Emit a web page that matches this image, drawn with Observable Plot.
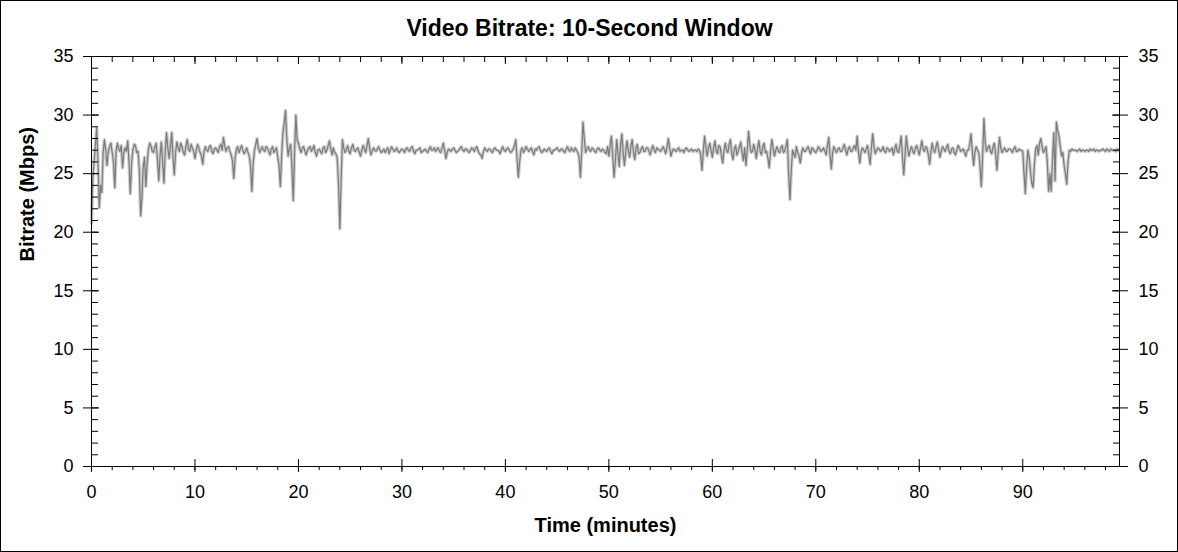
<!DOCTYPE html>
<html>
<head>
<meta charset="utf-8">
<script src="https://cdn.jsdelivr.net/npm/d3@7"></script>
<script src="https://cdn.jsdelivr.net/npm/@observablehq/plot@0.6"></script>
<style>
  html, body { margin: 0; padding: 0; background: #fff; }
  #wrap { position: relative; width: 1178px; height: 552px; overflow: hidden; }
  #border { position: absolute; left: 0; top: 0; width: 1178px; height: 552px; box-sizing: border-box; border: 1px solid #000; pointer-events: none; }
</style>
</head>
<body>
<div id="wrap"><div id="border"></div></div>
<script>
const titleText = "Video Bitrate: 10-Second Window";
const xLabel = "Time (minutes)";
const yLabel = "Bitrate (Mbps)";

// sample spacing of the series (minutes)
const sampleStep = 0.25;

// bitrate (Mbps) read at 0, 0.25, 0.5 ... minutes
const bitrate = [
  20.8, 26.0, 28.9, 22.1, 23.4, 27.9, 25.7, 27.3, 26.8, 23.8, 27.6, 26.9, 25.5, 27.2, 27.8, 23.3, 27.0, 27.4, 26.9, 21.4,
  25.6, 23.9, 27.1, 27.4, 26.8, 27.6, 24.4, 27.7, 24.2, 28.5, 26.3, 28.5, 24.9, 27.7, 26.9, 27.3, 26.6, 27.9, 26.9, 27.2,
  26.3, 27.5, 26.8, 25.8, 27.3, 26.9, 27.4, 26.7, 27.2, 26.8, 27.5, 28.1, 26.9, 27.3, 26.6, 24.6, 27.1, 26.8, 27.4, 26.7,
  27.2, 26.5, 23.5, 27.0, 28.0, 26.8, 27.3, 26.9, 27.2, 26.6, 27.3, 27.0, 26.4, 23.9, 28.5, 30.4, 26.5, 27.5, 22.7, 30.0,
  27.6, 26.8, 27.3, 26.6, 27.2, 26.9, 27.4, 26.5, 27.1, 26.7, 27.3, 27.0, 27.8, 26.6, 26.8, 26.3, 20.3, 27.9, 26.8, 27.4,
  26.7, 27.5, 26.9, 27.2, 26.5, 27.4, 26.8, 28.0, 26.6, 27.2, 26.9, 27.3, 26.8, 27.1, 27.0, 26.7, 27.3, 26.9, 27.2, 26.8,
  27.1, 26.8, 27.2, 26.9, 27.3, 26.7, 27.0, 27.2, 26.9, 27.1, 26.8, 27.3, 27.0, 26.9, 27.2, 26.8, 27.6, 26.3, 27.1, 26.9,
  27.2, 26.8, 27.0, 27.3, 26.9, 27.1, 26.8, 27.2, 26.9, 27.3, 26.7, 26.3, 27.2, 26.9, 27.1, 26.8, 27.2, 27.0, 26.7, 27.3,
  26.9, 27.2, 26.8, 27.1, 27.9, 24.7, 27.0, 26.8, 27.3, 26.9, 27.2, 26.6, 27.0, 27.3, 26.8, 27.1, 26.9, 27.2, 26.7, 27.0,
  27.2, 26.9, 27.1, 26.8, 27.3, 26.9, 27.0, 27.2, 26.8, 24.7, 29.4, 26.8, 27.3, 26.9, 27.1, 26.8, 27.2, 26.9, 27.0, 26.7,
  26.5, 28.2, 24.7, 27.9, 25.6, 28.4, 25.7, 27.8, 26.4, 27.9, 26.2, 27.5, 26.8, 27.3, 26.9, 27.2, 26.6, 27.4, 26.8, 27.1,
  26.9, 27.3, 26.7, 28.0, 26.5, 27.1, 26.9, 27.2, 27.0, 26.8, 27.2, 26.9, 27.1, 27.0, 26.9, 27.0, 25.3, 28.2, 26.5, 27.6,
  26.4, 27.8, 26.7, 27.3, 25.9, 27.6, 26.8, 27.9, 26.2, 27.4, 26.9, 27.7, 26.1, 25.7, 28.6, 26.8, 27.5, 26.3, 27.8, 26.6,
  27.6, 26.9, 25.5, 27.9, 26.5, 27.3, 26.8, 27.4, 26.9, 27.9, 22.8, 27.0, 26.4, 26.8, 25.9, 27.2, 26.9, 27.3, 26.7, 27.1,
  26.8, 27.3, 26.9, 27.2, 26.6, 28.1, 25.4, 27.3, 26.8, 27.2, 26.9, 27.5, 26.6, 27.3, 26.9, 27.4, 28.2, 25.9, 27.2, 26.8,
  27.4, 25.8, 28.4, 26.7, 27.2, 26.9, 27.3, 26.8, 27.1, 27.0, 26.6, 27.5, 26.8, 28.2, 24.9, 28.2, 26.5, 27.3, 26.7, 27.4,
  26.6, 27.8, 26.9, 27.2, 25.8, 27.6, 26.8, 27.7, 26.4, 27.3, 26.9, 27.5, 26.7, 27.2, 26.6, 27.4, 26.9, 27.1, 26.5, 27.0,
  28.4, 25.7, 27.3, 26.8, 23.9, 29.7, 26.9, 27.4, 26.7, 27.6, 25.3, 28.1, 26.8, 27.2, 26.9, 27.1, 26.8, 27.3, 26.9, 27.0,
  26.9, 23.3, 27.0, 25.1, 23.8, 27.1, 26.6, 28.0, 26.8, 27.3, 23.5, 23.5, 28.5, 29.4, 28.2, 26.5, 25.7, 24.1, 27.0, 27.1,
  27.0, 26.9, 27.1, 27.0, 26.9, 27.0, 27.1, 27.0, 26.9, 27.0, 27.0, 27.1, 26.9, 27.0, 27.1, 27.0, 26.9, 27.0
];

// bitrate (Mbps) read at 0.125, 0.375, 0.625 ... minutes (between the samples above)
const bitrateMid = [
  24.5, 27.4, 26.2, 24.0, 26.8, 27.0, 26.9, 27.6, 26.0, 26.9, 27.1, 27.4, 26.8, 26.9, 26.0, 25.8, 27.5, 26.8, 25.2, 23.0,
  26.4, 25.8, 27.6, 26.9, 27.3, 26.2, 26.5, 26.0, 26.9, 27.2, 27.3, 26.4, 26.8, 27.2, 27.6, 26.8, 27.3, 27.1, 27.5, 26.9,
  27.0, 27.2, 26.5, 26.9, 27.0, 27.3, 26.9, 27.1, 27.0, 27.3, 27.0, 27.4, 27.2, 26.9, 26.1, 26.3, 27.3, 27.1, 27.0, 26.9,
  26.8, 25.6, 25.9, 27.5, 27.2, 27.1, 27.0, 27.3, 26.9, 27.1, 26.8, 27.2, 25.7, 26.5, 29.3, 28.0, 27.2, 25.5, 26.8, 27.9,
  27.1, 27.2, 26.9, 27.0, 27.3, 27.1, 26.8, 27.0, 26.9, 27.2, 26.8, 27.4, 27.1, 27.2, 26.7, 24.0, 24.5, 27.2, 27.0, 26.9,
  27.2, 27.0, 27.1, 26.8, 27.0, 27.1, 27.4, 27.2, 26.9, 27.0, 27.1, 27.0, 26.9, 26.8, 27.2, 27.0, 27.1, 27.0, 26.9, 27.0,
  27.0, 27.1, 27.0, 27.2, 26.9, 27.0, 27.1, 26.8, 27.0, 26.9, 27.1, 27.0, 27.2, 27.1, 26.9, 27.2, 27.0, 26.8, 27.0, 27.1,
  27.0, 26.9, 27.2, 27.0, 27.1, 26.9, 27.0, 27.1, 27.2, 26.9, 26.6, 26.9, 27.0, 27.1, 26.9, 27.1, 27.0, 26.9, 27.1, 27.0,
  27.1, 27.0, 26.9, 27.4, 26.3, 26.0, 27.2, 27.0, 27.1, 27.0, 26.9, 27.1, 27.2, 27.0, 26.9, 27.0, 27.1, 26.9, 27.0, 27.1,
  27.0, 27.1, 26.9, 27.1, 27.0, 27.2, 26.9, 27.0, 26.4, 26.8, 28.0, 27.1, 27.0, 27.2, 26.9, 27.1, 27.0, 27.1, 26.8, 27.3,
  27.4, 26.5, 26.0, 26.8, 27.3, 26.9, 26.8, 27.0, 27.3, 26.9, 27.2, 26.7, 27.1, 26.9, 27.2, 26.9, 27.1, 27.0, 27.2, 27.0,
  27.1, 27.0, 27.3, 27.2, 26.9, 27.0, 27.1, 26.9, 27.0, 27.1, 27.0, 27.0, 26.9, 27.0, 27.1, 26.6, 26.9, 27.3, 27.2, 27.0,
  27.2, 26.9, 27.4, 26.6, 26.9, 27.0, 27.5, 26.7, 27.1, 26.6, 27.3, 26.8, 27.2, 27.0, 27.4, 26.9, 27.0, 27.2, 26.9, 27.3,
  26.8, 26.3, 26.9, 27.2, 27.0, 26.9, 27.2, 26.8, 27.4, 25.0, 25.2, 26.7, 27.3, 26.5, 26.8, 26.9, 27.1, 27.0, 27.2, 26.9,
  27.0, 27.1, 27.0, 26.9, 27.4, 26.6, 26.8, 27.0, 27.1, 26.9, 27.2, 27.0, 27.1, 26.9, 27.2, 27.0, 26.8, 26.9, 27.0, 27.1,
  26.6, 27.2, 27.3, 27.0, 27.1, 27.0, 26.9, 27.2, 26.9, 27.2, 27.1, 26.9, 27.4, 26.4, 26.6, 27.1, 27.0, 26.9, 27.2, 27.0,
  27.2, 27.1, 27.3, 26.6, 26.9, 27.0, 27.3, 27.0, 26.9, 27.1, 27.2, 26.9, 27.1, 26.8, 27.0, 27.2, 27.0, 26.8, 27.0, 27.5,
  26.9, 26.8, 27.0, 25.6, 26.5, 27.6, 27.2, 26.9, 27.3, 26.7, 26.8, 27.2, 27.0, 26.9, 27.1, 27.0, 27.1, 26.9, 27.1, 27.0,
  25.0, 25.6, 26.4, 24.2, 25.8, 27.4, 27.6, 27.3, 27.0, 26.0, 25.0, 26.2, 24.4, 28.7, 27.3, 26.8, 25.0, 26.0, 26.9, 27.0,
  27.0, 27.0, 26.9, 27.0, 27.0, 26.9, 27.0, 27.1, 27.0, 26.9, 27.0, 27.0, 27.1, 26.9, 27.0, 27.0, 27.1
];

const xDomain = [0, 99.35];
const yDomain = [0, 35];
const xMajorTicks = [0, 10, 20, 30, 40, 50, 60, 70, 80, 90];
const xMinorTicks = [0, 2, 4, 6, 8, 10, 12, 14, 16, 18, 20, 22, 24, 26, 28, 30, 32, 34, 36, 38, 40, 42, 44, 46, 48,
  50, 52, 54, 56, 58, 60, 62, 64, 66, 68, 70, 72, 74, 76, 78, 80, 82, 84, 86, 88, 90, 92, 94, 96, 98];
const yMajorTicks = [0, 5, 10, 15, 20, 25, 30, 35];
const yMinorTicks = [0, 1, 2, 3, 4, 5, 6, 7, 8, 9, 10, 11, 12, 13, 14, 15, 16, 17, 18, 19, 20, 21, 22, 23, 24, 25,
  26, 27, 28, 29, 30, 31, 32, 33, 34, 35];

const data = bitrate.map((v, i) => ({t: i * sampleStep, v}))
  .concat(bitrateMid.map((v, i) => ({t: i * sampleStep + sampleStep / 2, v})))
  .sort((a, b) => a.t - b.t);
const blank = () => "";
const font = "Liberation Sans, Arial, sans-serif";

const chart = Plot.plot({
  width: 1178,
  height: 552,
  marginLeft: 91,
  marginRight: 59,
  marginTop: 56,
  marginBottom: 86,
  style: {fontFamily: font, fontSize: "18px", color: "#000", background: "transparent", overflow: "visible"},
  x: {domain: xDomain},
  y: {domain: yDomain},
  marks: [
    Plot.line(data, {x: "t", y: "v", stroke: "#d0d0d0", strokeWidth: 3.5, strokeLinejoin: "round"}),
    Plot.line(data, {x: "t", y: "v", stroke: "#7a7a7a", strokeWidth: 1.2}),
    Plot.frame({stroke: "#000"}),
    // bottom axis
    Plot.axisX(xMinorTicks, {anchor: "bottom", tickSize: 4, tickFormat: blank, label: null}),
    Plot.axisX(xMajorTicks, {anchor: "bottom", tickSize: 13, dy: -7, tickFormat: blank, label: null}),
    Plot.axisX(xMajorTicks, {anchor: "bottom", tickSize: 0, tickPadding: 19, label: null, fontSize: 18}),
    // top axis (ticks only, pointing inward)
    Plot.axisX(xMinorTicks, {anchor: "top", tickSize: 5, dy: 5, tickFormat: blank, label: null}),
    Plot.axisX(xMajorTicks, {anchor: "top", tickSize: 7, dy: 7, tickFormat: blank, label: null}),
    // left axis
    Plot.axisY(yMinorTicks, {anchor: "left", tickSize: 7, dx: 7, tickFormat: blank, label: null}),
    Plot.axisY(yMajorTicks, {anchor: "left", tickSize: 16, dx: 8, tickFormat: blank, label: null}),
    Plot.axisY(yMajorTicks, {anchor: "left", tickSize: 0, tickPadding: 18, label: null, fontSize: 18}),
    // right axis
    Plot.axisY(yMinorTicks, {anchor: "right", tickSize: 7, dx: -7, tickFormat: blank, label: null}),
    Plot.axisY(yMajorTicks, {anchor: "right", tickSize: 16, dx: -8, tickFormat: blank, label: null}),
    Plot.axisY(yMajorTicks, {anchor: "right", tickSize: 0, tickPadding: 19, label: null, fontSize: 18}),
    // title and axis labels
    Plot.text([titleText], {frameAnchor: "top", lineAnchor: "middle", dx: -16, dy: -28, fontWeight: "bold", fontSize: 23, fill: "#000"}),
    Plot.text([xLabel], {frameAnchor: "bottom", lineAnchor: "middle", dy: 59, fontWeight: "bold", fontSize: 20, fill: "#000"}),
    Plot.text([yLabel], {frameAnchor: "left", lineAnchor: "middle", dx: -64, rotate: -90, fontWeight: "bold", fontSize: 20, fill: "#000"})
  ]
});
document.getElementById("wrap").prepend(chart);
</script>
</body>
</html>
